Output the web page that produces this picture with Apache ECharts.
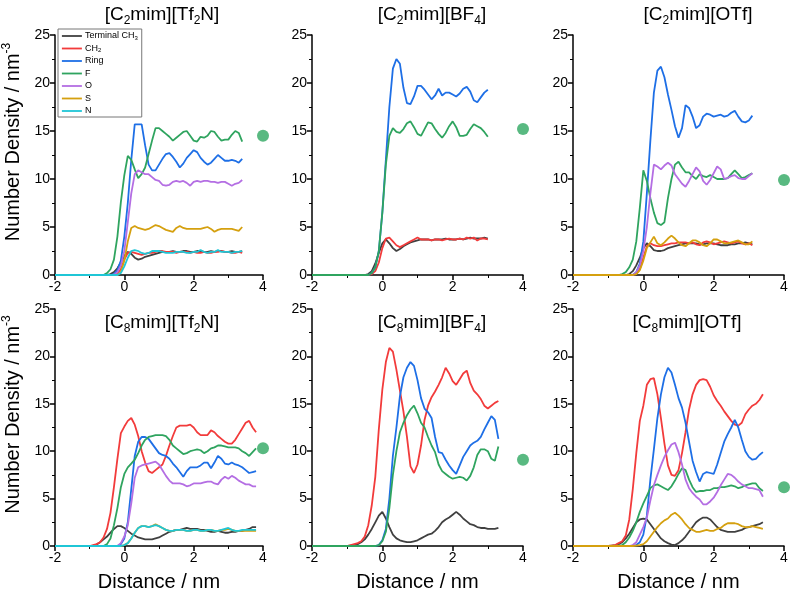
<!DOCTYPE html>
<html>
<head>
<meta charset="utf-8">
<script src="https://cdn.jsdelivr.net/npm/echarts@6/dist/echarts.min.js"></script>
<style>
html, body { margin: 0; padding: 0; background: #fff; }
#chart { width: 791px; height: 593px; }
</style>
</head>
<body>
<div id="chart"></div>
<script>
// distance grids (nm)
const dist1 = [-2, -1.0, -0.9, -0.8, -0.7, -0.6, -0.5, -0.4, -0.3, -0.2, -0.1,
    0, 0.1, 0.2, 0.3, 0.4, 0.5, 0.6, 0.7, 0.8, 0.9,
    1.0, 1.1, 1.2, 1.3, 1.4, 1.5, 1.6, 1.7, 1.8, 1.9,
    2.0, 2.1, 2.2, 2.3, 2.4, 2.5, 2.6, 2.7, 2.8, 2.9,
    3.0, 3.1, 3.2, 3.3, 3.4];
const dist2 = [-2, -1.0, -0.9, -0.8, -0.7, -0.6, -0.5, -0.4, -0.3, -0.2, -0.1,
    0, 0.1, 0.2, 0.3, 0.4, 0.5, 0.6, 0.7, 0.8, 0.9,
    1.0, 1.1, 1.2, 1.3, 1.4, 1.5, 1.6, 1.7, 1.8, 1.9,
    2.0, 2.1, 2.2, 2.3, 2.4, 2.5, 2.6, 2.7, 2.8, 2.9,
    3.0];
const dist3 = [-2, -1.0, -0.9, -0.8, -0.7, -0.6, -0.5, -0.4, -0.3, -0.2, -0.1,
    0, 0.1, 0.2, 0.3, 0.4, 0.5, 0.6, 0.7, 0.8, 0.9,
    1.0, 1.1, 1.2, 1.3, 1.4, 1.5, 1.6, 1.7, 1.8, 1.9,
    2.0, 2.1, 2.2, 2.3, 2.4, 2.5, 2.6, 2.7, 2.8, 2.9,
    3.0, 3.1];
const dist4 = [-2, -1.0, -0.9, -0.8, -0.7, -0.6, -0.5, -0.4, -0.3, -0.2, -0.1,
    0, 0.1, 0.2, 0.3, 0.4, 0.5, 0.6, 0.7, 0.8, 0.9,
    1.0, 1.1, 1.2, 1.3, 1.4, 1.5, 1.6, 1.7, 1.8, 1.9,
    2.0, 2.1, 2.2, 2.3, 2.4, 2.5, 2.6, 2.7, 2.8, 2.9,
    3.0, 3.1, 3.2, 3.3, 3.4, 3.5, 3.6, 3.7, 3.8];
const dist5 = [-2, -1.0, -0.9, -0.8, -0.7, -0.6, -0.5, -0.4, -0.3, -0.2, -0.1,
    0, 0.1, 0.2, 0.3, 0.4, 0.5, 0.6, 0.7, 0.8, 0.9,
    1.0, 1.1, 1.2, 1.3, 1.4, 1.5, 1.6, 1.7, 1.8, 1.9,
    2.0, 2.1, 2.2, 2.3, 2.4, 2.5, 2.6, 2.7, 2.8, 2.9,
    3.0, 3.1, 3.2, 3.3];

// [C2mim][Tf2N]
const p1Ch3 = [0, 0,0,0,0,0,0,0.1,0.3,0.7,1.3, 2.0,2.4,2.2,1.8,1.6,1.7,1.9,2.0,2.1,2.2, 2.3,2.4,2.4,2.4,2.5,2.4,2.4,2.5,2.5,2.4, 2.4,2.5,2.5,2.4,2.4,2.5,2.4,2.5,2.5,2.4, 2.4,2.5,2.4,2.4,2.5];
const p1Ch2 = [0, 0,0,0,0,0,0,0,0,0.2,0.6, 1.6,2.3,2.4,2.3,2.2,2.1,2.2,2.3,2.3,2.4, 2.5,2.5,2.4,2.4,2.4,2.3,2.4,2.4,2.4,2.3, 2.4,2.3,2.3,2.4,2.3,2.3,2.4,2.4,2.5,2.4, 2.4,2.3,2.3,2.4,2.3];
const p1Ring = [0, 0,0,0,0,0,0,0,0.1,0.5,1.5, 4.0,7.5,12.0,15.7,15.7,15.7,13.5,11.5,10.9,10.9, 11.5,12.1,12.6,12.7,12.3,11.8,11.2,11.6,12.2,12.6, 13.0,12.8,12.2,11.8,11.5,11.7,12.1,12.5,12.2,11.9, 11.9,12.0,11.9,11.7,12.1];
const p1F = [0, 0,0,0,0,0,0.2,0.6,1.6,4.0,7.6, 10.4,12.4,12.0,11.0,10.1,10.5,11.2,12.6,14.0,15.3, 15.3,15.0,14.7,14.4,14.0,14.3,14.6,14.9,15.0,14.5, 14.0,13.9,14.4,14.3,14.5,15.0,14.9,14.4,14.0,14.1, 14.1,14.6,15.0,14.8,13.9];
const p1O = [0, 0,0,0,0,0,0,0,0,0.3,1.0, 2.5,5.5,8.5,10.5,10.9,10.7,10.5,10.5,10.2,9.9, 9.8,9.4,9.3,9.4,9.7,9.8,9.7,9.8,9.6,9.3, 9.7,9.8,9.7,9.8,9.8,9.7,9.7,9.6,9.7,9.7, 9.5,9.3,9.5,9.6,9.9];
const p1S = [0, 0,0,0,0,0,0,0,0,0,0.3, 1.5,3.5,4.9,5.1,4.9,4.8,4.7,4.8,5.0,5.2, 5.1,4.9,4.7,4.6,4.5,4.9,5.1,4.9,4.8,4.8, 4.8,4.8,4.8,4.9,5.0,4.8,4.5,4.7,4.8,4.8, 4.8,4.8,4.7,4.6,5.0];
const p1N = [0, 0,0,0,0,0,0,0,0,0,0.2, 0.9,1.8,2.5,2.6,2.5,2.3,2.2,2.3,2.5,2.5, 2.5,2.4,2.3,2.3,2.3,2.4,2.4,2.4,2.3,2.3, 2.4,2.4,2.6,2.4,2.3,2.4,2.4,2.6,2.4,2.4, 2.4,2.3,2.4,2.4,2.5];

// [C2mim][BF4]
const p2Ch3 = [0, 0,0,0,0,0,0,0.1,0.4,1.2,2.3, 3.3,3.7,3.3,2.8,2.5,2.7,3.0,3.2,3.4,3.5, 3.6,3.7,3.7,3.7,3.6,3.7,3.7,3.7,3.8,3.7, 3.7,3.7,3.8,3.7,3.8,3.9,3.8,3.8,3.8,3.9, 3.8];
const p2Ch2 = [0, 0,0,0,0,0,0,0,0.1,0.4,1.3, 2.8,3.8,3.9,3.5,3.1,2.9,3.1,3.3,3.5,3.7, 3.9,3.7,3.7,3.7,3.6,3.7,3.7,3.6,3.7,3.8, 3.7,3.7,3.8,3.7,3.9,3.8,3.9,3.6,3.8,3.8, 3.7];
const p2Ring = [0, 0,0,0,0,0,0,0,0.2,0.8,2.5, 6.5,12.0,17.5,21.5,22.5,22.0,19.5,17.9,17.8,18.6, 19.7,19.7,19.3,18.8,18.3,18.7,19.4,18.7,19.0,19.0, 18.8,18.6,18.9,19.4,19.6,19.1,18.2,18.0,18.5,19.0, 19.3];
const p2F = [0, 0,0,0,0,0,0,0,0.2,0.8,2.5, 6.5,11.5,14.5,15.3,14.9,14.8,15.2,15.8,16.0,15.4, 14.7,14.5,15.2,15.9,15.8,15.2,14.7,14.3,14.8,15.5, 16.0,15.4,14.5,14.5,14.6,15.2,15.7,15.5,15.3,14.9, 14.4];

// [C2mim][OTf]
const p3Ch3 = [0, 0,0,0,0,0,0,0.1,0.4,1.0,1.8, 2.8,3.3,3.0,2.6,2.5,2.5,2.6,2.8,2.9,3.0, 3.1,3.2,3.3,3.3,3.3,3.3,3.2,3.2,3.3,3.3, 3.3,3.2,3.1,3.1,3.1,3.2,3.2,3.3,3.3,3.4, 3.3,3.2];
const p3Ch2 = [0, 0,0,0,0,0,0,0,0,0.1,0.6, 1.8,3.0,3.3,3.1,3.0,3.0,3.1,3.2,3.3,3.3, 3.4,3.4,3.4,3.3,3.4,3.2,3.1,3.4,3.5,3.4, 3.2,3.3,3.4,3.5,3.4,3.3,3.4,3.5,3.3,3.2, 3.3,3.1];
const p3Ring = [0, 0,0,0,0,0,0,0,0,0.3,1.2, 3.5,8.5,14.0,19.0,21.3,21.7,20.6,18.8,17.2,15.5, 14.3,15.3,17.7,17.4,16.5,15.3,15.6,16.5,16.8,16.7, 16.5,16.6,16.7,16.5,16.6,16.9,17.1,16.5,16.0,15.9, 16.1,16.6];
const p3F = [0, 0,0,0,0,0.1,0.3,0.8,1.6,3.5,7.0, 10.9,9.8,8.0,6.5,5.4,5.2,5.5,8.0,10.0,11.5, 11.8,11.2,10.7,10.7,10.3,10.0,10.5,10.3,10.2,10.4, 10.2,10.0,10.0,10.0,10.1,10.5,10.9,10.5,10.1,10.2, 10.4,10.6];
const p3O = [0, 0,0,0,0,0,0,0,0,0.3,1.0, 2.5,5.0,8.5,11.5,11.3,11.0,11.4,11.7,11.4,10.5, 10.0,9.5,9.2,9.8,10.5,11.2,10.8,9.8,9.4,9.9, 10.6,11.3,11.0,10.0,10.1,10.3,10.4,10.1,10.0,10.0, 10.3,10.6];
const p3S = [0, 0,0,0,0,0,0,0,0,0.1,0.5, 1.5,2.8,3.4,4.0,3.3,3.1,3.4,3.8,4.1,3.8, 3.4,3.1,3.0,3.3,3.6,3.6,3.4,3.1,3.0,3.3, 3.7,3.7,3.5,3.3,3.3,3.4,3.5,3.6,3.4,3.2, 3.2,3.5];

// [C8mim][Tf2N]
const p4Ch3 = [0, 0,0.05,0.15,0.4,0.7,1.0,1.4,1.8,2.1,2.1, 1.9,1.6,1.3,1.1,0.9,0.8,0.7,0.7,0.7,0.8, 0.9,1.1,1.3,1.5,1.6,1.7,1.7,1.8,1.9,1.8, 1.8,1.8,1.7,1.7,1.6,1.5,1.5,1.6,1.5,1.4, 1.4,1.5,1.5,1.6,1.6,1.7,1.8,2.0,2.0];
const p4Ch2 = [0, 0,0.1,0.2,0.4,0.9,1.8,3.5,6.2,9.2,11.9, 12.6,13.2,13.5,12.8,11.6,10.0,8.8,7.9,7.7,8.0, 8.3,8.6,9.5,10.6,11.6,12.5,12.7,12.7,12.7,12.8, 12.5,12.0,11.7,11.7,11.7,12.2,12.0,11.6,11.3,11.0, 10.8,10.8,11.2,11.8,12.4,13.0,13.2,12.5,12.0];
const p4Ring = [0, 0,0,0,0,0,0,0,0,0,0.2, 0.8,2.5,6.0,9.5,11.0,11.5,11.5,11.3,10.8,10.3, 9.8,9.6,9.5,9.2,8.7,8.3,7.8,7.3,7.9,8.3, 8.3,8.3,8.5,8.8,8.8,8.2,8.8,9.5,9.2,8.7, 8.6,8.8,8.6,8.5,8.3,8.0,7.7,7.8,7.9];
const p4F = [0, 0,0,0,0,0,0.2,0.8,2.2,4.0,6.2, 7.6,8.3,8.7,9.1,9.8,10.6,11.2,11.5,11.6,11.7, 11.7,11.7,11.6,11.2,10.6,10.3,10.0,9.7,9.8,10.0, 10.1,10.2,10.1,9.8,10.0,10.3,10.4,10.6,10.6,10.5, 10.4,10.4,10.4,10.3,10.0,9.8,9.5,9.9,10.3];
const p4O = [0, 0,0,0,0,0,0,0,0,0,0.3, 1.0,2.2,4.5,7.2,8.3,8.5,8.6,8.7,8.8,8.9, 8.6,8.0,7.4,6.9,6.6,6.6,6.6,6.5,6.3,6.4, 6.6,6.6,6.6,6.7,6.8,6.8,6.6,6.5,7.0,7.3, 7.1,7.4,7.2,6.9,6.7,6.5,6.5,6.3,6.3];
const p4S = [0, 0,0,0,0,0,0,0,0,0,0, 0.1,0.3,0.8,1.4,1.9,2.1,2.1,2.0,2.1,2.3, 2.1,1.9,1.7,1.6,1.6,1.7,1.7,1.7,1.6,1.6, 1.7,1.7,1.6,1.6,1.7,1.7,1.6,1.6,1.7,1.7, 1.8,1.7,1.6,1.6,1.6,1.6,1.6,1.6,1.6];
const p4N = [0, 0,0,0,0,0,0,0,0,0,0, 0.1,0.3,0.8,1.4,1.9,2.1,2.1,2.0,2.1,2.2, 2.1,1.9,1.7,1.6,1.6,1.7,1.7,1.7,1.6,1.6, 1.7,1.7,1.6,1.6,1.7,1.7,1.6,1.6,1.7,1.8, 1.9,1.7,1.6,1.6,1.7,1.7,1.7,1.7,1.7];

// [C8mim][BF4]
const p5Ch3 = [0, 0,0.05,0.1,0.2,0.4,0.7,1.2,1.8,2.5,3.2, 3.6,2.9,2.0,1.2,0.8,0.6,0.5,0.4,0.4,0.5, 0.6,0.8,1.0,1.2,1.3,1.6,2.0,2.5,2.8,3.0, 3.3,3.6,3.3,2.9,2.6,2.3,2.2,2.0,1.9,1.9, 1.8,1.8,1.8,1.9];
const p5Ch2 = [0, 0,0.1,0.2,0.3,0.5,1.0,2.2,4.3,7.3,12.3, 16.5,19.4,20.9,20.5,18.6,16.4,14.2,11.5,8.4,7.7, 8.6,10.6,13.3,14.8,15.7,16.3,17.0,17.8,18.8,18.2, 17.4,17.0,17.6,18.2,18.5,17.2,16.4,16.0,15.5,14.8, 14.5,14.8,15.1,15.3];
const p5Ring = [0, 0,0,0,0,0,0,0,0,0,0.1, 0.6,1.8,5.0,9.5,12.5,15.8,17.8,18.8,19.4,19.0, 17.5,15.6,14.5,14.1,13.5,11.5,9.9,9.8,9.1,8.5, 8.0,7.6,8.5,9.4,10.0,10.6,10.9,11.1,11.5,12.3, 13.0,13.7,13.3,11.3];
const p5F = [0, 0,0,0,0,0,0,0,0,0,0.1, 0.5,1.5,4.0,7.5,10.0,12.0,13.0,13.8,14.4,14.8, 14.0,13.0,12.5,11.5,10.6,9.9,8.6,7.9,7.6,7.3, 7.1,7.2,7.3,7.2,6.9,7.4,8.3,9.6,10.2,10.2, 10.0,9.2,9.0,10.5];

// [C8mim][OTf]
const p6Ch3 = [0, 0,0.05,0.1,0.2,0.4,0.8,1.3,1.9,2.5,2.8, 2.9,2.8,2.3,1.8,1.3,0.8,0.5,0.3,0.15,0.1, 0.3,0.6,1.0,1.5,2.0,2.5,2.8,3.0,3.0,2.8, 2.4,2.0,1.7,1.6,1.5,1.5,1.5,1.6,1.7,1.9, 2.0,2.1,2.2,2.3,2.5];
const p6Ch2 = [0, 0,0.05,0.1,0.3,0.5,1.1,2.8,6.0,9.8,13.2, 14.8,17.0,17.6,17.7,16.0,13.5,10.8,8.5,7.5,7.4, 8.0,9.8,12.0,14.4,16.0,17.0,17.5,17.6,17.5,16.8, 15.9,15.3,14.8,14.2,13.7,13.2,12.8,12.7,13.0,13.9, 14.4,14.8,15.0,15.4,16.0];
const p6Ring = [0, 0,0,0,0,0,0,0,0,0.1,0.4, 1.2,3.2,7.0,10.2,13.5,16.0,17.8,18.8,18.3,17.0, 15.6,14.6,13.0,11.0,9.0,7.8,6.8,7.6,7.8,7.7, 7.6,8.6,9.8,11.0,11.8,12.5,13.3,12.5,11.2,10.0, 9.4,9.1,9.2,9.6,9.9];
const p6F = [0, 0,0,0,0.05,0.1,0.4,0.9,1.6,2.5,3.6, 4.5,5.3,6.1,6.4,6.5,6.3,6.1,5.9,6.3,6.9, 7.6,8.2,8.0,7.0,6.2,5.7,5.8,5.8,5.9,5.9, 6.1,6.1,6.2,6.2,6.3,6.4,6.3,6.1,6.2,6.4, 6.5,6.6,6.6,6.1,5.8];
const p6O = [0, 0,0,0,0,0,0,0,0.1,0.4,1.2, 2.0,3.0,4.8,6.4,7.5,8.5,9.4,10.1,10.7,10.9, 9.9,8.6,7.0,6.1,5.6,5.2,4.9,4.4,4.4,4.7, 5.1,5.7,6.4,7.0,7.6,7.5,7.2,6.8,6.5,6.3, 6.1,6.1,6.0,5.9,5.2];
const p6S = [0, 0,0,0,0,0,0,0,0,0.05,0.1, 0.2,0.5,1.0,1.5,2.0,2.4,2.7,2.9,3.3,3.5, 3.2,2.8,2.3,1.9,1.7,1.5,1.5,1.6,1.7,1.6, 1.6,1.8,1.9,2.2,2.4,2.4,2.4,2.3,2.1,2.0, 2.0,2.1,2.0,1.9,1.8];

// bulk F density markers at x = 4
const bulkX = 4;
const bulkF = [14.5, 15.2, 9.9, 10.3, 9.1, 6.2];

const species = ["Terminal CH3", "CH2", "Ring", "F", "O", "S", "N"];
const colors = ["#404040", "#f23b3b", "#1e6fe6", "#2fa45f", "#b46ee3", "#d5a00f", "#1fc6d6"];

const panels = [
    {title: "[C{s|2}mim][Tf{s|2}N]", left: 52, top: 35, tx: 162, ty: 3, dist: dist1,
        lines: [p1Ch3, p1Ch2, p1Ring, p1F, p1O, p1S, p1N]},
    {title: "[C{s|2}mim][BF{s|4}]", left: 312, top: 35, tx: 432, ty: 3, dist: dist2,
        lines: [p2Ch3, p2Ch2, p2Ring, p2F, null, null, null]},
    {title: "[C{s|2}mim][OTf]", left: 573, top: 35, tx: 698, ty: 3, dist: dist3,
        lines: [p3Ch3, p3Ch2, p3Ring, p3F, p3O, p3S, null]},
    {title: "[C{s|8}mim][Tf{s|2}N]", left: 52, top: 309, tx: 162, ty: 311, dist: dist4,
        lines: [p4Ch3, p4Ch2, p4Ring, p4F, p4O, p4S, p4N]},
    {title: "[C{s|8}mim][BF{s|4}]", left: 312, top: 309, tx: 432, ty: 311, dist: dist5,
        lines: [p5Ch3, p5Ch2, p5Ring, p5F, null, null, null]},
    {title: "[C{s|8}mim][OTf]", left: 573, top: 309, tx: 687, ty: 311, dist: dist1,
        lines: [p6Ch3, p6Ch2, p6Ring, p6F, p6O, p6S, null]},
];

const font = "Liberation Sans, Arial, sans-serif";
const black = {color: "#000", width: 1.5};

const grids = [], xAxes = [], yAxes = [], titles = [], series = [];

panels.forEach((p, i) => {
    const bottomRow = i >= 3;
    const leftCol = i % 3 === 0;
    grids.push({left: p.left, top: p.top, width: 211, height: bottomRow ? 239 : 240});
    titles.push({
        text: p.title, left: p.tx, top: p.ty, textAlign: "center", padding: 0,
        textStyle: {
            fontFamily: font, fontSize: 19, fontWeight: "normal", color: "#000", lineHeight: 24,
            rich: {s: {fontFamily: font, fontSize: 12, verticalAlign: "bottom", lineHeight: 24}},
        },
    });
    xAxes.push({
        gridIndex: i, type: "value", min: -2, max: 4, interval: 2,
        axisLine: {show: true, onZero: false, lineStyle: black},
        axisTick: {show: true, length: 5, lineStyle: black},
        minorTick: {show: true, splitNumber: 2, length: 3, lineStyle: {color: "#000", width: 1}},
        splitLine: {show: false},
        axisLabel: {color: "#000", fontSize: 14, fontFamily: font, margin: 5, showMinLabel: true, showMaxLabel: true},
        name: bottomRow ? "Distance / nm" : "",
        nameLocation: "middle", nameGap: 26,
        nameTextStyle: {fontFamily: font, fontSize: 20, color: "#000"},
    });
    yAxes.push({
        gridIndex: i, type: "value", min: 0, max: 25, interval: 5,
        axisLine: {show: true, onZero: false, lineStyle: black},
        axisTick: {show: true, length: 5, lineStyle: black},
        minorTick: {show: true, splitNumber: 2, length: 3, lineStyle: {color: "#000", width: 1}},
        splitLine: {show: false},
        axisLabel: {color: "#000", fontSize: 14, fontFamily: font, margin: 5, showMinLabel: true, showMaxLabel: true},
        name: leftCol ? "Number Density / nm{sup|-3}" : "",
        nameLocation: "middle", nameRotate: 90, nameGap: 30,
        nameTextStyle: {
            fontFamily: font, fontSize: 20, color: "#000", lineHeight: 24, padding: [0, 0, 0, 26],
            rich: {sup: {fontFamily: font, fontSize: 12, verticalAlign: "top", lineHeight: 24}},
        },
    });
    p.lines.forEach((ys, k) => {
        if (!ys) return;
        series.push({
            name: species[k], type: "line", xAxisIndex: i, yAxisIndex: i,
            data: p.dist.map((d, j) => [d, ys[j]]),
            symbol: "none", smooth: false,
            lineStyle: {color: colors[k], width: 1.8},
            itemStyle: {color: colors[k]},
            z: 2 + k,
        });
    });
    series.push({
        name: "bulk F", type: "scatter", xAxisIndex: i, yAxisIndex: i,
        data: [[bulkX, bulkF[i]]], symbolSize: 12, clip: false,
        itemStyle: {color: "#2fa862"}, z: 10,
    });
});

const chart = echarts.init(document.getElementById("chart"));
chart.setOption({
    animation: false,
    backgroundColor: "#fff",
    textStyle: {fontFamily: font},
    title: titles,
    grid: grids,
    xAxis: xAxes,
    yAxis: yAxes,
    legend: {
        data: species,
        orient: "vertical", left: 58, top: 29,
        padding: [2, 4, 1, 3], itemGap: 2.5, itemWidth: 20, itemHeight: 10,
        borderColor: "#777", borderWidth: 1, borderRadius: 0,
        itemStyle: {opacity: 0},
        lineStyle: {width: 1.8},
        formatter: (name) => name.replace(/(\d)$/, "{s|$1}"),
        textStyle: {
            fontFamily: font, fontSize: 9, color: "#000", padding: [0, 0, 0, -2], lineHeight: 10,
            rich: {s: {fontFamily: font, fontSize: 6, verticalAlign: "bottom", lineHeight: 10}},
        },
    },
    series: series,
});
</script>
</body>
</html>
